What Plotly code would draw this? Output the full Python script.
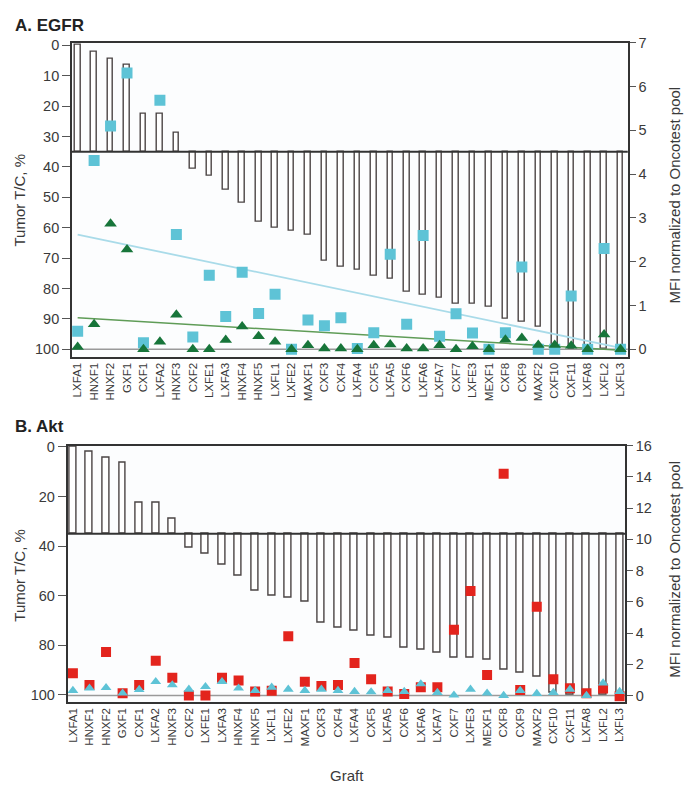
import plotly.graph_objects as go

W, H = 685, 787

grafts = ["LXFA1", "HNXF1", "HNXF2", "GXF1", "CXF1", "LXFA2", "HNXF3", "CXF2",
          "LXFE1", "LXFA3", "HNXF4", "HNXF5", "LXFL1", "LXFE2", "MAXF1", "CXF3",
          "CXF4", "LXFA4", "CXF5", "LXFA5", "CXF6", "LXFA6", "LXFA7", "CXF7",
          "LXFE3", "MEXF1", "CXF8", "CXF9", "MAXF2", "CXF10", "CXF11", "LXFA8",
          "LXFL2", "LXFL3"]

# tumor T/C, % (bars, same for both panels)
tumor_tc = [0, 2, 4.5, 6.5, 22.5, 22.5, 28.8, 40.8, 43, 47.5, 52, 58, 60, 61,
            62.5, 71, 73, 74, 76, 77, 81, 82, 83, 85, 85, 86, 90, 91, 92.7,
            99, 100, 100, 100, 100]

# panel A: EGFR MFI (squares) and second series (triangles)
egfr_sq = [0.41, 4.31, 5.1, 6.31, 0.15, 5.69, 2.62, 0.28, 1.69, 0.75, 1.76,
           0.82, 1.26, 0, 0.67, 0.54, 0.72, 0.02, 0.38, 2.17, 0.57, 2.6, 0.3,
           0.81, 0.37, 0, 0.38, 1.88, 0, 0, 1.22, 0, 2.3, 0]
egfr_tri = [0.05, 0.57, 2.87, 2.28, 0, 0.17, 0.79, 0, 0, 0.21, 0.52, 0.3,
            0.17, 0, 0.09, 0.02, 0.02, 0, 0.09, 0.11, 0.02, 0.02, 0.09, 0,
            0.07, 0, 0.22, 0.26, 0.1, 0.1, 0.08, 0, 0.34, 0]
egfr_fit_sq = [2.62, 0.03]
egfr_fit_tri = [0.72, -0.02]

# panel B: Akt MFI (squares) and second series (triangles)
akt_sq = [1.42, 0.68, 2.78, 0.15, 0.68, 2.22, 1.14, 0, 0, 1.14, 0.97, 0.25,
          0.3, 3.8, 0.89, 0.61, 0.68, 2.09, 1.04, 0.25, 0.09, 0.53, 0.53,
          4.22, 6.69, 1.31, 14.2, 0.36, 5.68, 1.04, 0.47, 0.15, 0.45, -0.05]
akt_tri = [0.32, 0.47, 0.5, 0.15, 0.38, 0.89, 0.68, 0.4, 0.57, 0.89, 0.47,
           0.32, 0.53, 0.4, 0.32, 0.4, 0.32, 0.25, 0.23, 0.32, 0.25, 0.74,
           0.19, 0.02, 0.4, 0.15, 0, 0.32, 0.13, 0.19, 0.4, 0, 0.8, 0.25]

BREAK = 35
TXT = "#3a3a3a"
BAR_LINE = "#4a4444"
SKY = "#5ec3d6"
GREEN = "#17753a"
RED = "#e3241d"
FONT = "Liberation Sans, Arial, sans-serif"


def fx(p):
    return p / W


def fy(p):
    return 1 - p / H


fig = go.Figure()

panels = [
    dict(x="x", yl="y", yr="y2", sq=egfr_sq, tri=egfr_tri, sq_col=SKY,
         tri_col=GREEN, bw=0.34, sq_size=11, tri_size=11),
    dict(x="x2", yl="y3", yr="y4", sq=akt_sq, tri=akt_tri, sq_col=RED,
         tri_col=SKY, bw=0.42, sq_size=10, tri_size=9.5),
]

for i, p in enumerate(panels):
    fig.add_trace(go.Bar(
        x=grafts, y=[v - BREAK for v in tumor_tc], base=BREAK, width=p["bw"],
        marker=dict(color="white", line=dict(color=BAR_LINE, width=1.4)),
        xaxis=p["x"], yaxis=p["yl"], showlegend=False, hoverinfo="skip"))
    if i == 0:
        fig.add_trace(go.Scatter(
            x=[grafts[0], grafts[-1]], y=egfr_fit_sq, mode="lines",
            line=dict(color="#a9dbe9", width=1.8),
            xaxis=p["x"], yaxis=p["yr"], showlegend=False))
        fig.add_trace(go.Scatter(
            x=[grafts[0], grafts[-1]], y=egfr_fit_tri, mode="lines",
            line=dict(color="#5f9c57", width=1.5),
            xaxis=p["x"], yaxis=p["yr"], showlegend=False))
    fig.add_trace(go.Scatter(
        x=grafts, y=p["sq"], mode="markers",
        marker=dict(symbol="square", size=p["sq_size"], color=p["sq_col"]),
        xaxis=p["x"], yaxis=p["yr"], showlegend=False))
    fig.add_trace(go.Scatter(
        x=grafts, y=p["tri"], mode="markers",
        marker=dict(symbol="triangle-up", size=p["tri_size"], color=p["tri_col"]),
        xaxis=p["x"], yaxis=p["yr"], showlegend=False))

axis_common = dict(showline=True, linecolor="#333333", linewidth=1.5,
                   showgrid=False, zeroline=False,
                   tickfont=dict(family=FONT, size=14.5, color=TXT))

fig.update_layout(
    width=W, height=H,
    margin=dict(l=0, r=0, t=0, b=0),
    paper_bgcolor="white", plot_bgcolor="#fcfdfe",
    font=dict(family=FONT, color=TXT),
    bargap=0,
    xaxis=dict(axis_common, domain=[fx(71), fx(627.7)], anchor="y",
               type="category", range=[-0.35, 33.44], mirror=True, ticks="",
               tickangle=-90, tickfont=dict(family=FONT, size=11.5, color=TXT)),
    yaxis=dict(axis_common, domain=[fy(353), fy(35.3)], anchor="x",
               range=[102.4, -0.8], tickvals=list(range(0, 101, 10)),
               ticks="outside", ticklen=8, tickcolor="#555", mirror=True),
    yaxis2=dict(axis_common, overlaying="y", side="right", anchor="x",
                range=[-0.165, 7.0], tickvals=list(range(0, 8)),
                ticks="outside", ticklen=6, tickcolor="#555"),
    xaxis2=dict(axis_common, domain=[fx(66.7), fx(625)], anchor="y3",
                type="category", range=[-0.32, 33.33], mirror=True, ticks="",
                tickangle=-90, tickfont=dict(family=FONT, size=11.5, color=TXT)),
    yaxis3=dict(axis_common, domain=[fy(702.7), fy(443.3)], anchor="x2",
                range=[102.85, -0.5], tickvals=list(range(0, 101, 20)),
                ticks="outside", ticklen=8, tickcolor="#555", mirror=True),
    yaxis4=dict(axis_common, overlaying="y3", side="right", anchor="x2",
                range=[-0.4, 16], tickvals=list(range(0, 17, 2)),
                ticks="outside", ticklen=6, tickcolor="#555"),
)

# break line at 35 % and grey zero line of the MFI axis
for xa, yl, yr in [("x", "y", "y2"), ("x2", "y3", "y4")]:
    fig.add_shape(type="line", xref=f"{xa} domain", x0=0, x1=1, yref=yl,
                  y0=BREAK, y1=BREAK, line=dict(color="#333333", width=2))
    fig.add_shape(type="line", xref=f"{xa} domain", x0=0, x1=1, yref=yr,
                  y0=0, y1=0, line=dict(color="#9a9a9a", width=1.5),
                  layer="below")

notes = [
    ("A. EGFR", 12, 18, 0, 17, True),
    ("B. Akt", 12, 424, 0, 17, True),
    ("Tumor T/C, %", 19, 194, -90, 15, False),
    ("Tumor T/C, %", 19, 574, -90, 15, False),
    ("MFI normalized to Oncotest pool", 675, 190, -90, 15, False),
    ("MFI normalized to Oncotest pool", 675, 569, -90, 15, False),
    ("Graft", 347, 777, 0, 15, False),
]
for text, x, y, ang, size, bold in notes:
    fig.add_annotation(
        text=f"<b>{text}</b>" if bold else text,
        xref="paper", yref="paper", x=fx(x), y=fy(y),
        xanchor="left" if ang == 0 and bold else "center", yanchor="middle",
        textangle=ang, showarrow=False,
        font=dict(family=FONT, size=size, color="#222" if bold else TXT))

# drop the default page margin so the figure sits at the window's corner
fig.write_html("out.html", config={"displayModeBar": False},
               post_script="document.body.style.margin='0';")
